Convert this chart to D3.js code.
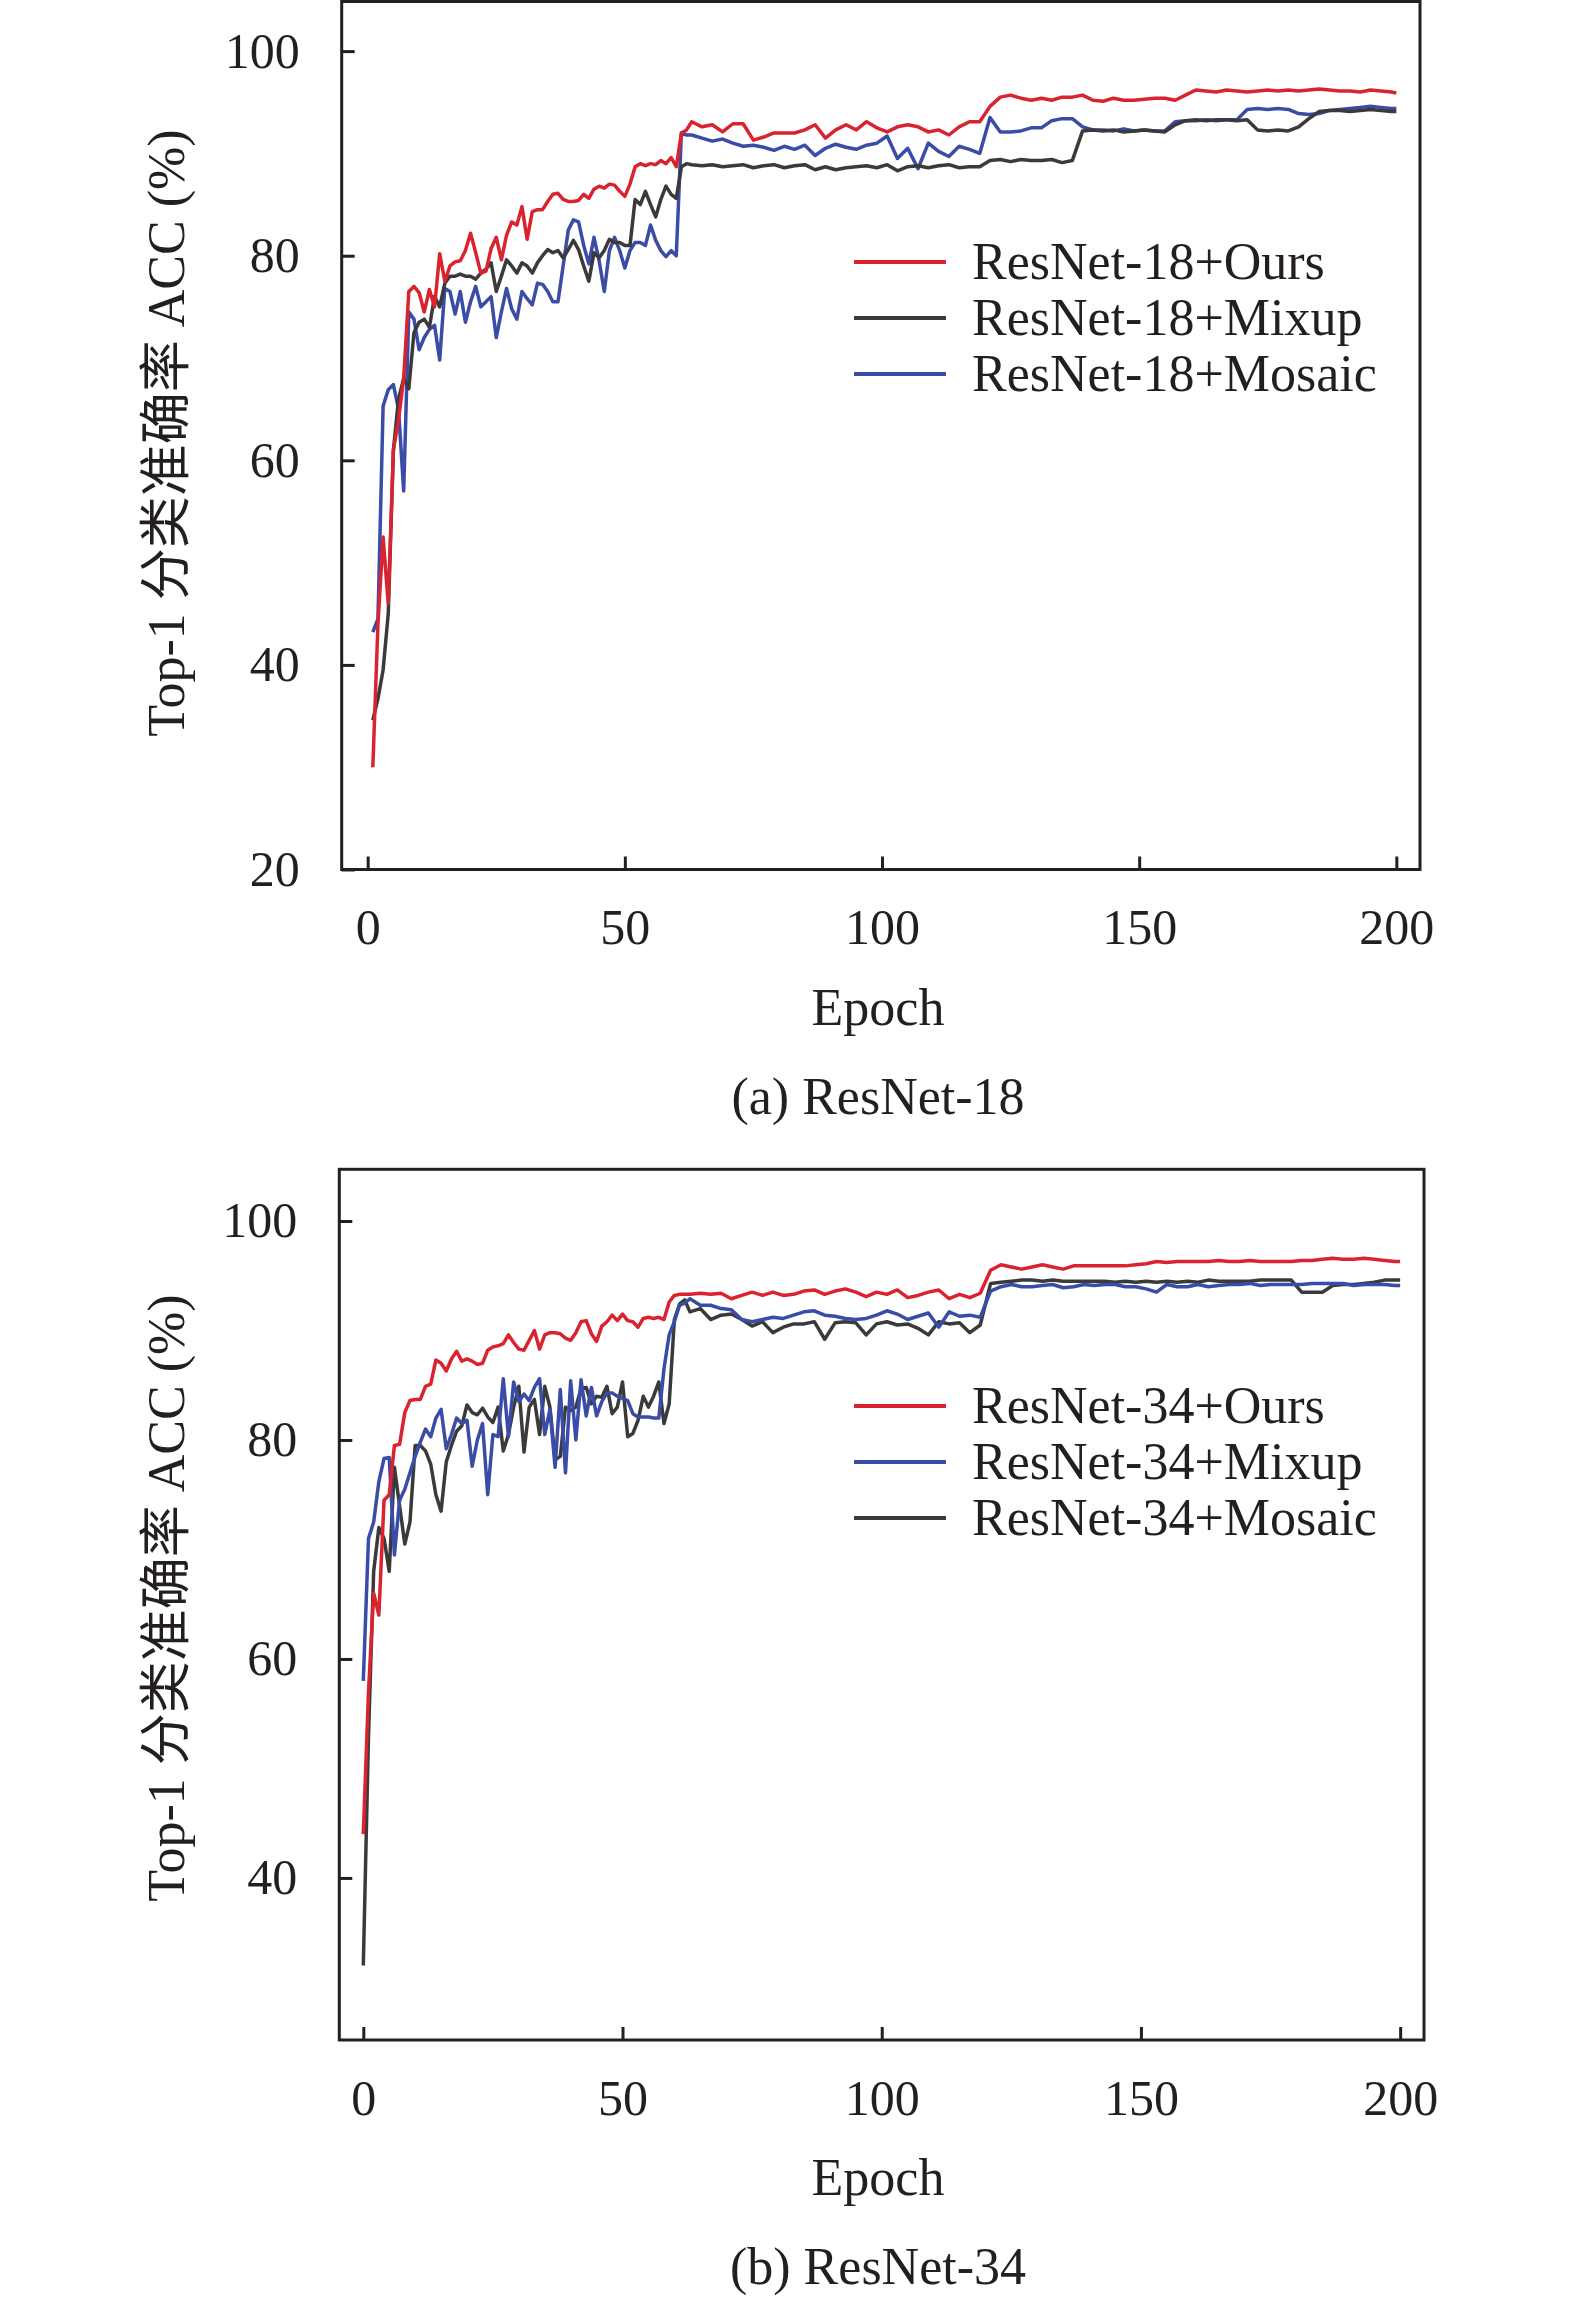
<!DOCTYPE html>
<html>
<head>
<meta charset="utf-8">
<script src="https://cdn.jsdelivr.net/npm/d3@7"></script>
<style>
  body { margin: 0; background: #fff; }
  text { font-family: "Liberation Serif", "Times New Roman", "Noto Sans CJK SC", serif; fill: #231f20; }
</style>
</head>
<body>
<div id="chart"></div>
<script>
// epochs: every epoch up to 62, then every second epoch
var epochsA = d3.range(1, 63).concat(d3.range(63, 200, 2), [200]);
var epochsB = d3.range(0, 63).concat(d3.range(63, 200, 2), [200]);

var xTicks = [0, 50, 100, 150, 200];
var yTicksA = [20, 40, 60, 80, 100];
var yTicksB = [40, 60, 80, 100];

// (a) ResNet-18
var r18Ours = [30, 44, 52.5, 46, 61, 64, 68, 76.5, 77, 76.4, 74.5, 76.7, 75, 80.2, 77.5, 79, 79.4, 79.5, 80.5, 82.2,
  80.3, 78.3, 78.5, 80.7, 81.8, 79.6, 82, 83.3, 83, 84.8, 81.6, 84.3, 84.5, 84.5, 85.3, 86, 86.1, 85.5, 85.3, 85.3,
  85.4, 86, 85.6, 86.5, 86.8, 86.6, 87, 86.9, 86.3, 85.8, 87, 88.7, 89, 88.8, 89, 88.9, 89.3, 89, 89.6, 88.7,
  92, 92.3,
  93.1, 92.6, 92.8, 92.1, 92.9, 92.9, 91.3, 91.6, 92, 92, 92, 92.3, 92.8, 91.5, 92.3, 92.8, 92.3, 93.1, 92.5, 92.1,
  92.6, 92.8, 92.6, 92.1, 92.3, 91.8, 92.6, 93.1, 93.1,
  94.6, 95.5, 95.7, 95.4, 95.2, 95.4, 95.2, 95.5, 95.5, 95.7, 95.2, 95.1, 95.4, 95.2, 95.2, 95.3, 95.4, 95.4, 95.2, 95.7,
  96.2, 96.1, 96.0, 96.2, 96.1, 96.0, 96.1, 96.2, 96.1, 96.2, 96.1, 96.2, 96.3, 96.2, 96.1, 96.1, 96.0, 96.2, 96.1, 96.0,
  95.9];
var r18Mixup = [34.6, 36.7, 39.5, 45, 61, 66, 68, 67, 72.5, 73.5, 73.8, 73, 76, 75, 77.3, 78, 78, 78.2, 78, 78,
  77.7, 78.3, 78.7, 79.3, 76.5, 78, 79.6, 79, 78.3, 79.3, 79, 78.3, 79.3, 80, 80.6, 80.3, 80.5, 79.8, 80.6, 81.5,
  80.6, 79, 77.5, 80.3, 79.8, 80.5, 81.6, 81.3, 81.3, 81, 81, 85.5, 85, 86.3, 85, 83.8, 85.5, 86.8, 86, 85.6,
  88.7, 89,
  88.9, 88.8, 88.9, 88.7, 88.8, 88.9, 88.6, 88.8, 88.9, 88.6, 88.8, 88.9, 88.4, 88.7, 88.4, 88.6, 88.7, 88.8, 88.6, 88.9,
  88.3, 88.7, 88.8, 88.6, 88.8, 88.9, 88.6, 88.7, 88.7,
  89.3, 89.4, 89.2, 89.4, 89.3, 89.3, 89.4, 89.1, 89.3, 92.2, 92.3, 92.2, 92.3, 92.1, 92.2, 92.3, 92.2, 92.1, 92.8, 93.2,
  93.3, 93.2, 93.3, 93.3, 93.2, 93.3, 92.3, 92.2, 92.3, 92.2, 92.6, 93.4, 94.1, 94.2, 94.2, 94.1, 94.2, 94.3, 94.2, 94.1,
  94.1];
var r18Mosaic = [43.2, 44.5, 65.3, 66.9, 67.4, 65, 57, 74.5, 73.8, 70.8, 72, 72.8, 73.2, 69.8, 76.8, 76.5, 74.3, 76.5, 73.5, 75.5,
  77, 75, 75.5, 76, 72, 74.5, 76.8, 74.8, 73.8, 76.5, 75.8, 75.2, 77.3, 77.2, 76.5, 75.5, 75.5, 79, 82.5, 83.5,
  83.3, 81, 79.2, 81.8, 79.5, 76.5, 80.5, 81.8, 80.5, 78.8, 80.5, 81.3, 81.3, 81, 83, 81.5, 80.5, 79.9, 80.5, 80,
  92, 91.8,
  91.8, 91.5, 91.2, 91.4, 91, 90.7, 90.8, 90.6, 90.3, 90.7, 90.4, 90.8, 89.8, 90.5, 90.9, 90.6, 90.4, 90.8, 91, 91.7,
  89.5, 90.5, 88.5, 91, 90.2, 89.7, 90.7, 90.4, 90,
  93.5, 92.1, 92.1, 92.2, 92.5, 92.5, 93.2, 93.4, 93.4, 92.6, 92.3, 92.3, 92.2, 92.4, 92.2, 92.3, 92.2, 92.2, 93.1, 93.2,
  93.2, 93.3, 93.2, 93.3, 93.3, 94.3, 94.4, 94.3, 94.4, 94.3, 93.9, 93.8, 93.9, 94.2, 94.3, 94.4, 94.5, 94.6, 94.5, 94.4,
  94.4];

// (b) ResNet-34
var r34Ours = [44, 57, 66, 64, 74.5, 75, 79.5, 79.6, 82.5, 83.6, 83.7, 83.7, 84.9, 85.1, 87.3, 87, 86.3, 87.4, 88.1, 87.2,
  87.4, 87.2, 86.9, 87, 88.2, 88.5, 88.6, 88.8, 89.6, 88.9, 88.3, 88.2, 89.1, 90, 88.3, 89.6, 89.8, 89.8, 89.7, 89.3,
  89.1, 89.8, 90.8, 90.9, 89.7, 89, 90.4, 90.8, 91.4, 90.9, 91.5, 90.9, 90.8, 90.3, 91.1, 91.2, 91.1, 91.2, 91, 92.6,
  93.2, 93.3, 93.3,
  93.3, 93.4, 93.3, 93.4, 92.9, 93.2, 93.5, 93.2, 93.5, 93.2, 93.3, 93.6, 93.7, 93.3, 93.6, 93.8, 93.5, 93.1, 93.5, 93.3,
  93.7, 93.0, 93.2, 93.5, 93.7, 92.9, 93.3, 93.0, 93.4,
  95.5, 96.0, 95.8, 95.6, 95.8, 96.0, 95.8, 95.6, 95.9, 95.9, 95.9, 95.9, 95.9, 95.9, 96.0, 96.1, 96.3, 96.2, 96.3, 96.3,
  96.3, 96.3, 96.4, 96.3, 96.3, 96.4, 96.3, 96.3, 96.3, 96.3, 96.4, 96.4, 96.5, 96.6, 96.5, 96.5, 96.6, 96.5, 96.4, 96.3,
  96.3];
var r34Mixup = [58, 71, 72.5, 76.2, 78.3, 78.4, 69.5, 74.5, 75.5, 77, 78.5, 79.8, 81, 80.3, 82, 82.8, 79.2, 80.5, 82, 81.5,
  81.8, 77.6, 80, 81.5, 75, 80.5, 80.3, 85.6, 80.3, 85.3, 83.5, 84.2, 83.6, 84.8, 85.6, 80.5, 82.8, 77.5, 84.6, 77,
  85.4, 80, 85.5, 82.2, 84.8, 82.2, 83.5, 84.3, 84.3, 84, 83.8, 83.6, 82.4, 82.1, 82.1, 82.1, 82, 82, 86.5, 89.6,
  90.8, 92.3, 92.5,
  92.9, 92.3, 92.3, 92.0, 91.9, 91.0, 90.8, 91.0, 91.2, 91.1, 91.4, 91.7, 91.8, 91.4, 91.3, 91.1, 91.0, 91.1, 91.4, 91.8,
  91.5, 91.0, 91.3, 91.6, 90.3, 91.7, 91.3, 91.4, 91.2,
  93.6, 94.0, 94.2, 94.0, 94.0, 94.1, 94.2, 93.9, 94.0, 94.2, 94.1, 94.2, 94.2, 94.0, 94.0, 93.8, 93.5, 94.2, 94.0, 94.0,
  94.2, 94.0, 94.1, 94.2, 94.2, 94.3, 94.1, 94.2, 94.2, 94.2, 94.2, 94.3, 94.3, 94.3, 94.3, 94.1, 94.2, 94.2, 94.2, 94.1,
  94.1];
var r34Mosaic = [32, 53, 68, 72, 71, 68, 77.5, 74, 70.5, 72.5, 79.5, 79.5, 79, 77.8, 75, 73.5, 78, 79.5, 80.8, 81.3,
  83.2, 82.5, 82.3, 82.9, 82.1, 81.6, 83, 79, 80.5, 83, 84.9, 78.9, 83, 83.7, 80.5, 84.9, 83, 78.2, 78.5, 83,
  82.7, 83, 84.7, 84.8, 83.3, 84, 83.9, 84.9, 82.4, 83, 85.3, 80.3, 80.6, 81.8, 84, 83, 84, 85.3, 81.5, 83.3,
  91, 92.4, 92.8,
  91.7, 92.0, 91.0, 91.4, 91.5, 91.0, 90.4, 90.8, 89.8, 90.3, 90.6, 90.6, 90.8, 89.2, 90.7, 90.8, 90.7, 89.6, 90.6, 90.8,
  90.5, 90.6, 90.2, 89.6, 90.8, 90.6, 90.7, 89.8, 90.5,
  94.3, 94.4, 94.5, 94.6, 94.6, 94.5, 94.6, 94.5, 94.5, 94.5, 94.5, 94.5, 94.4, 94.5, 94.4, 94.5, 94.4, 94.5, 94.4, 94.5,
  94.4, 94.6, 94.5, 94.5, 94.5, 94.5, 94.6, 94.6, 94.6, 94.6, 93.5, 93.5, 93.5, 94.1, 94.2, 94.2, 94.3, 94.4, 94.6, 94.6,
  94.6];

var red = "#d9232f", blue = "#3a4ca6", dark = "#3a3a3a";

var svg = d3.select("#chart")
  .append("svg")
    .attr("width", 1575)
    .attr("height", 2302);

function drawPanel(p) {
  var g = svg.append("g");

  var x = d3.scaleLinear().domain(p.xDomain).range([p.left, p.right]);
  var y = d3.scaleLinear().domain(p.yDomain).range([p.bottom, p.top]);

  // x axis, ticks pointing inwards
  var xa = g.append("g")
    .attr("transform", "translate(0," + p.bottom + ")")
    .call(d3.axisBottom(x).tickValues(xTicks).tickSizeInner(-13).tickSizeOuter(0).tickPadding(39));
  xa.attr("font-size", 50).attr("font-family", null);
  xa.select(".domain").remove();
  xa.selectAll("line").attr("stroke", "#231f20").attr("stroke-width", 3);

  // y axis
  var ya = g.append("g")
    .attr("transform", "translate(" + p.left + ",0)")
    .call(d3.axisLeft(y).tickValues(p.yTicks).tickSizeInner(-13).tickSizeOuter(0).tickPadding(42));
  ya.attr("font-size", 50).attr("font-family", null);
  ya.select(".domain").remove();
  ya.selectAll("line").attr("stroke", "#231f20").attr("stroke-width", 3);

  // lines
  var line = d3.line()
    .x(function(d) { return x(d[0]); })
    .y(function(d) { return y(d[1]); });

  p.series.slice().reverse().forEach(function(s) {
    g.append("path")
      .datum(d3.zip(p.epochs, s.values))
      .attr("fill", "none")
      .attr("stroke", s.color)
      .attr("stroke-width", 3.5)
      .attr("stroke-linejoin", "round")
      .attr("d", line);
  });

  // frame
  g.append("rect")
    .attr("x", p.left)
    .attr("y", p.top)
    .attr("width", p.right - p.left)
    .attr("height", p.bottom - p.top)
    .attr("fill", "none")
    .attr("stroke", "#231f20")
    .attr("stroke-width", 3);

  // legend
  p.series.forEach(function(s, i) {
    var ly = p.legendY + i * 56;
    g.append("line")
      .attr("x1", 854).attr("x2", 946)
      .attr("y1", ly).attr("y2", ly)
      .attr("stroke", s.color)
      .attr("stroke-width", 4);
    g.append("text")
      .attr("x", 972)
      .attr("y", ly)
      .attr("dy", "0.33em")
      .style("font-size", "52px")
      .text(s.name);
  });

  // labels
  g.append("text")
    .attr("transform", "translate(184," + p.yLabelY + ") rotate(-90)")
    .attr("text-anchor", "middle")
    .style("font-size", "52px")
    .text("Top-1 分类准确率 ACC (%)");

  g.append("text")
    .attr("x", 878)
    .attr("y", p.epochY)
    .attr("text-anchor", "middle")
    .style("font-size", "52px")
    .text("Epoch");

  g.append("text")
    .attr("x", 878)
    .attr("y", p.captionY)
    .attr("text-anchor", "middle")
    .style("font-size", "52px")
    .text(p.caption);
}

drawPanel({
  left: 341.7, right: 1420, top: 1.5, bottom: 869.5,
  xDomain: [-5.05, 204.6], yDomain: [20, 104.85],
  yTicks: yTicksA,
  epochs: epochsA,
  series: [
    {name: "ResNet-18+Ours", color: red, values: r18Ours},
    {name: "ResNet-18+Mixup", color: dark, values: r18Mixup},
    {name: "ResNet-18+Mosaic", color: blue, values: r18Mosaic}
  ],
  legendY: 262,
  yLabelY: 433,
  epochY: 1025,
  captionY: 1114,
  caption: "(a) ResNet-18"
});

drawPanel({
  left: 339.3, right: 1424, top: 1169.3, bottom: 2040,
  xDomain: [-4.63, 204.6], yDomain: [25.2, 104.72],
  yTicks: yTicksB,
  epochs: epochsB,
  series: [
    {name: "ResNet-34+Ours", color: red, values: r34Ours},
    {name: "ResNet-34+Mixup", color: blue, values: r34Mixup},
    {name: "ResNet-34+Mosaic", color: dark, values: r34Mosaic}
  ],
  legendY: 1406,
  yLabelY: 1598,
  epochY: 2195,
  captionY: 2284,
  caption: "(b) ResNet-34"
});
</script>
</body>
</html>
